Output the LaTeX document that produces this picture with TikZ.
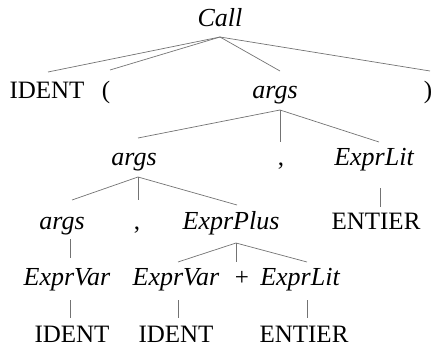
\documentclass[tikz,border=0pt]{standalone}
\usepackage{fontspec}
\setmainfont{Liberation Serif}
\begin{document}
\begin{tikzpicture}[x=1pt,y=-1pt,
  lbl/.style={anchor=base,inner sep=0pt,font=\fontsize{25}{29}\selectfont},
  nt/.style={lbl,font=\fontsize{26}{30}\selectfont\itshape},
  edge/.style={draw=black!55,line width=0.7pt}]
\useasboundingbox (0,0) rectangle (432,348);
% row 1
\node[nt] (call) at (220,27) {Call};
% row 2
\node[lbl] (id1) at (47,99) {IDENT};
\node[lbl] (lp) at (106,99) {(};
\node[nt] (argsA) at (275,99) {args};
\node[lbl] (rp) at (428,99) {)};
% row 3
\node[nt] (argsB) at (134,165) {args};
\node[lbl] (cmA) at (281,165) {,};
\node[nt] (litA) at (374,165) {ExprLit};
% row 4
\node[nt] (argsC) at (62,229) {args};
\node[lbl] (cmB) at (137,229) {,};
\node[nt] (plus) at (231,229) {ExprPlus};
\node[lbl] (entA) at (376,229) {ENTIER};
% row 5
\node[nt] (varA) at (67,285) {ExprVar};
\node[nt] (varB) at (176,285) {ExprVar};
\node[lbl] (pl) at (242,285) {+};
\node[nt] (litB) at (300,285) {ExprLit};
% row 6
\node[lbl] (id2) at (72,342) {IDENT};
\node[lbl] (id3) at (176,342) {IDENT};
\node[lbl] (entB) at (304,342) {ENTIER};
% edges
\draw[edge] ([yshift=-10pt]call.base) -- ([xshift=1pt,yshift=27pt]id1.base);
\draw[edge] ([yshift=-10pt]call.base) -- ([xshift=4pt,yshift=29pt]lp.base);
\draw[edge] ([yshift=-10pt]call.base) -- ([xshift=5pt,yshift=28pt]argsA.base);
\draw[edge] ([yshift=-10pt]call.base) -- ([xshift=2pt,yshift=28pt]rp.base);
\draw[edge] ([xshift=5pt,yshift=-11pt]argsA.base) -- ([xshift=4pt,yshift=27pt]argsB.base);
\draw[edge] ([xshift=5pt,yshift=-11pt]argsA.base) -- ([xshift=-1pt,yshift=23pt]cmA.base);
\draw[edge] ([xshift=5pt,yshift=-11pt]argsA.base) -- ([xshift=5pt,yshift=23pt]litA.base);
\draw[edge] ([xshift=4pt,yshift=-12pt]argsB.base) -- ([xshift=10pt,yshift=29pt]argsC.base);
\draw[edge] ([xshift=4pt,yshift=-12pt]argsB.base) -- ([xshift=1pt,yshift=29pt]cmB.base);
\draw[edge] ([xshift=4pt,yshift=-12pt]argsB.base) -- ([xshift=6pt,yshift=24pt]plus.base);
\draw[edge] ([xshift=6pt,yshift=-23pt]litA.base) -- ([xshift=4pt,yshift=22pt]entA.base);
\draw[edge] ([xshift=8pt,yshift=-10pt]argsC.base) -- ([xshift=3pt,yshift=27pt]varA.base);
\draw[edge] ([xshift=5pt,yshift=-14pt]plus.base) -- ([xshift=2pt,yshift=23pt]varB.base);
\draw[edge] ([xshift=5pt,yshift=-14pt]plus.base) -- ([xshift=-6pt,yshift=23pt]pl.base);
\draw[edge] ([xshift=5pt,yshift=-14pt]plus.base) -- ([xshift=7pt,yshift=23pt]litB.base);
\draw[edge] ([xshift=3pt,yshift=-15pt]varA.base) -- ([xshift=-2pt,yshift=24pt]id2.base);
\draw[edge] ([xshift=2pt,yshift=-15pt]varB.base) -- ([xshift=2pt,yshift=24pt]id3.base);
\draw[edge] ([xshift=7pt,yshift=-15pt]litB.base) -- ([xshift=3pt,yshift=24pt]entB.base);
\end{tikzpicture}
\end{document}
